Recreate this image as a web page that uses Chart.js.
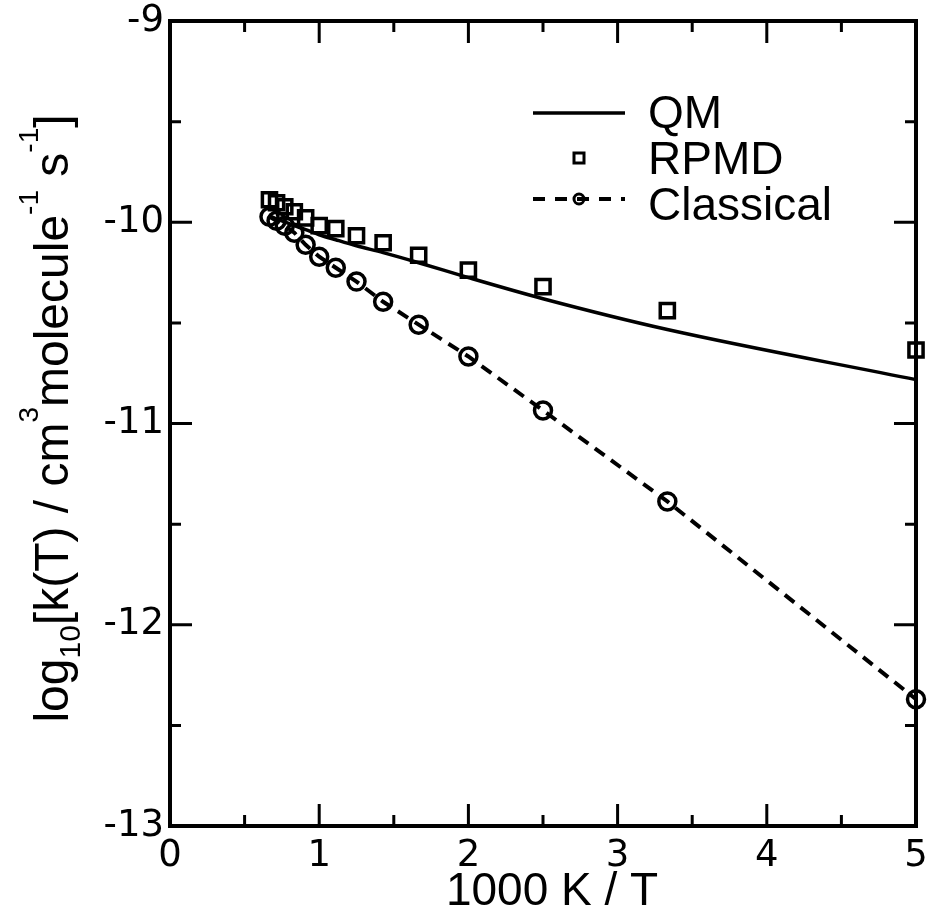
<!DOCTYPE html>
<html>
<head>
<meta charset="utf-8">
<script src="https://cdn.jsdelivr.net/npm/chart.js@4.4.1/dist/chart.umd.min.js"></script>
<style>
  html, body { margin: 0; padding: 0; background: #fff; }
  #wrap { width: 931px; height: 923px; }
</style>
</head>
<body>
<div id="wrap"><canvas id="chart" width="931" height="923"></canvas></div>
<script>
// ── Data: x = 1000 K / T, y = log10 k(T) ─────────────────────────────────────
const invT         = [0.6667, 0.7143, 0.7692, 0.8333, 0.9091, 1.0, 1.1111, 1.25, 1.4286, 1.6667, 2.0, 2.5, 3.3333, 5.0];
const qmLog        = [-9.968, -9.983, -9.998, -10.017, -10.037, -10.062, -10.087, -10.117, -10.151, -10.201, -10.275, -10.380, -10.533, -10.782];
const rpmdLog      = [-9.888, -9.903, -9.923, -9.948, -9.978, -10.017, -10.032, -10.067, -10.102, -10.164, -10.238, -10.320, -10.439, -10.635];
const classicalLog = [-9.973, -9.993, -10.017, -10.052, -10.112, -10.171, -10.226, -10.295, -10.395, -10.509, -10.667, -10.935, -11.387, -12.370];

const legendLabels = ['QM', 'RPMD', 'Classical'];
const xTitle = '1000 K / T';

// ── Fonts / styles ────────────────────────────────────────────────────────────
const TEXT_FONT = "'Liberation Sans', Arial, Helvetica, sans-serif";
const TICK_FONT = "'DejaVu Sans', Verdana, sans-serif";
const INK = '#000';

const xy = ys => invT.map((x, i) => ({ x, y: ys[i] }));

// ── Frame with inward ticks on all four sides ────────────────────────────────
const framePlugin = {
    id: 'frame',
    afterDatasetsDraw(chart) {
        const { ctx, chartArea: a, scales: { x, y } } = chart;
        ctx.save();
        ctx.strokeStyle = INK;
        ctx.lineWidth = 3;
        for (let v = 0.5; v < 5; v += 0.5) {
            const px = x.getPixelForValue(v);
            const len = Number.isInteger(v) ? 22 : 11;
            ctx.beginPath();
            ctx.moveTo(px, a.bottom); ctx.lineTo(px, a.bottom - len);
            ctx.moveTo(px, a.top);    ctx.lineTo(px, a.top + len);
            ctx.stroke();
        }
        for (let v = -12.5; v < -9; v += 0.5) {
            const py = y.getPixelForValue(v);
            const len = Number.isInteger(v) ? 22 : 11;
            ctx.beginPath();
            ctx.moveTo(a.left, py);  ctx.lineTo(a.left + len, py);
            ctx.moveTo(a.right, py); ctx.lineTo(a.right - len, py);
            ctx.stroke();
        }
        ctx.lineWidth = 4;
        ctx.strokeRect(a.left, a.top, a.right - a.left, a.bottom - a.top);
        ctx.restore();
    }
};

// ── Axis titles (y one has sub/superscripts) ─────────────────────────────────
const titlesPlugin = {
    id: 'axisTitles',
    afterDraw(chart) {
        const { ctx, chartArea: a } = chart;
        const parts = [
            { t: 'log',        f: 48, dy: 0 },
            { t: '10',         f: 30, dy: 12 },
            { t: '[k(T) / cm', f: 48, dy: 0 },
            { t: '3',          f: 28, dy: -30 },
            { t: 'molecule',   f: 48, dy: 0 },
            { t: '-1',         f: 28, dy: -30 },
            { t: ' s',         f: 48, dy: 0 },
            { t: '-1',         f: 28, dy: -30 },
            { t: ']',          f: 48, dy: 0 },
        ];
        ctx.save();
        ctx.fillStyle = INK;
        ctx.textBaseline = 'alphabetic';

        // x title
        ctx.font = `46px ${TEXT_FONT}`;
        ctx.textAlign = 'center';
        ctx.fillText(xTitle, 552, 905);
        ctx.textAlign = 'left';

        // y title
        let total = 0;
        parts.forEach(p => { ctx.font = `${p.f}px ${TEXT_FONT}`; p.w = ctx.measureText(p.t).width; total += p.w; });
        ctx.translate(68, (a.top + a.bottom) / 2 - 5);
        ctx.rotate(-Math.PI / 2);
        let cx = -total / 2;
        parts.forEach(p => {
            ctx.font = `${p.f}px ${TEXT_FONT}`;
            ctx.fillText(p.t, cx, p.dy);
            cx += p.w;
        });
        ctx.restore();
    }
};

// ── Legend (top right, inside the frame) ─────────────────────────────────────
const legendPlugin = {
    id: 'legendBox',
    afterDraw(chart) {
        const ctx = chart.ctx;
        const x0 = 533, x1 = 625, xm = 579, tx = 648;
        const rows = [113, 158, 199];
        ctx.save();
        ctx.strokeStyle = INK;
        ctx.fillStyle = INK;

        // QM: solid line
        ctx.lineWidth = 3.5;
        ctx.beginPath(); ctx.moveTo(x0, rows[0]); ctx.lineTo(x1, rows[0]); ctx.stroke();

        // RPMD: open square
        ctx.lineWidth = 3;
        ctx.strokeRect(xm - 5, rows[1] - 5, 10, 10);

        // Classical: dashed line + open circle
        ctx.lineWidth = 4;
        ctx.setLineDash([12, 10]);
        ctx.beginPath(); ctx.moveTo(x0, rows[2]); ctx.lineTo(x1, rows[2]); ctx.stroke();
        ctx.setLineDash([]);
        ctx.lineWidth = 3;
        ctx.beginPath(); ctx.arc(xm, rows[2], 5, 0, Math.PI * 2); ctx.stroke();

        ctx.font = `46px ${TEXT_FONT}`;
        ctx.textBaseline = 'alphabetic';
        const base = [128, 174, 220];
        legendLabels.forEach((l, i) => ctx.fillText(l, tx, base[i]));
        ctx.restore();
    }
};

const noPadX = s => { s.height = 97; s.paddingLeft = 0; s.paddingRight = 0; };
const noPadY = s => { s.width = 170; s.paddingTop = 0; s.paddingBottom = 0; };

new Chart(document.getElementById('chart'), {
    type: 'scatter',
    data: {
        datasets: [
            { label: legendLabels[0], data: xy(qmLog), showLine: true,
              borderColor: INK, borderWidth: 3.5, pointRadius: 0,
              cubicInterpolationMode: 'monotone', fill: false, clip: false },
            { label: legendLabels[1], data: xy(rpmdLog), showLine: false,
              pointStyle: 'rect', pointRadius: 10, pointBorderWidth: 3.5,
              pointBorderColor: INK, pointBackgroundColor: 'rgba(0,0,0,0)', clip: false },
            { label: legendLabels[2], data: xy(classicalLog), showLine: true,
              borderColor: INK, borderWidth: 4, borderDash: [12, 8], tension: 0,
              pointStyle: 'circle', pointRadius: 8.5, pointBorderWidth: 3.5,
              pointBorderColor: INK, pointBackgroundColor: 'rgba(0,0,0,0)', fill: false, clip: false },
        ]
    },
    options: {
        responsive: false,
        animation: false,
        events: [],
        layout: { padding: { top: 21, right: 15, left: 0, bottom: 0 } },
        plugins: { legend: { display: false }, tooltip: { enabled: false } },
        scales: {
            x: {
                type: 'linear', min: 0, max: 5,
                afterFit: noPadX,
                grid: { display: false, drawTicks: false },
                border: { display: false },
                ticks: { stepSize: 1, color: INK, padding: 8, font: { family: TICK_FONT, size: 37 } }
            },
            y: {
                type: 'linear', min: -13, max: -9,
                afterFit: noPadY,
                grid: { display: false, drawTicks: false },
                border: { display: false },
                ticks: { stepSize: 1, color: INK, padding: 6, font: { family: TICK_FONT, size: 37 } }
            }
        }
    },
    plugins: [framePlugin, titlesPlugin, legendPlugin]
});
</script>
</body>
</html>
